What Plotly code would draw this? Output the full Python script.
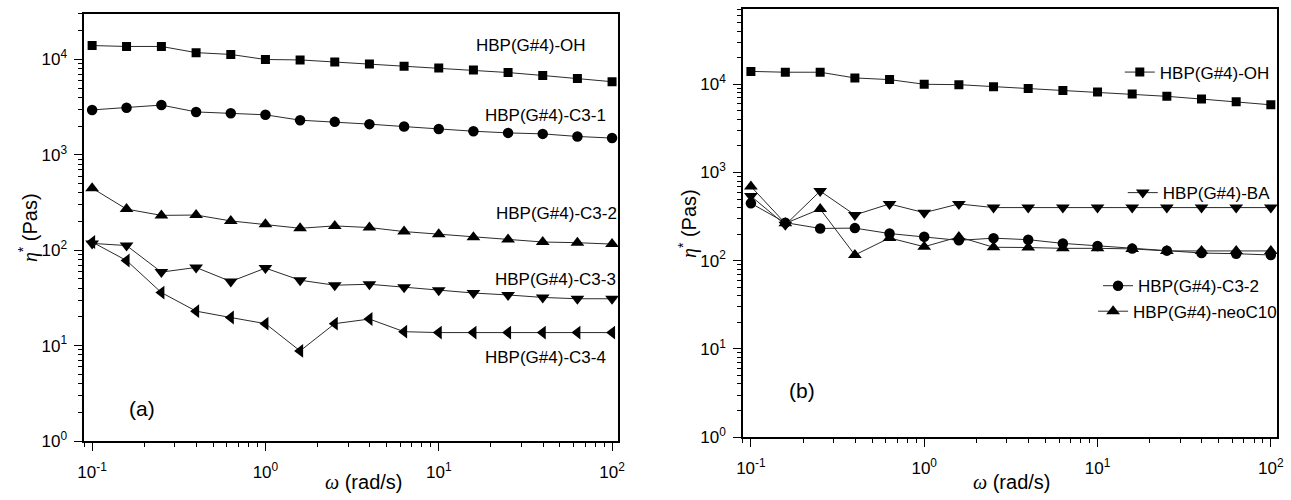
import plotly.graph_objects as go

# Angular frequency (rad/s), 5 points per decade
omega = [0.1, 0.158, 0.251, 0.398, 0.631, 1.0, 1.585, 2.512, 3.981, 6.31,
         10.0, 15.85, 25.12, 39.81, 63.1, 100.0]

# Complex viscosity eta* (Pa s)
eta_OH = [14000, 13700, 13700, 11800, 11300, 10000, 9900, 9400, 8950, 8500,
          8150, 7750, 7300, 6800, 6330, 5850]
eta_C3_1 = [2960, 3120, 3330, 2820, 2730, 2630, 2310, 2220, 2100, 1980,
            1870, 1770, 1700, 1660, 1560, 1500]
eta_C3_2 = [448, 270, 232, 234, 203, 187, 170, 180, 173, 157,
            147, 137, 130, 122, 120, 116]
eta_C3_3 = [118, 112, 59, 66, 47, 65, 48.5, 43, 44, 41,
            38, 35.6, 34, 32, 31, 31]
eta_C3_4 = [122, 78, 36, 23, 19.7, 17, 8.8, 17, 19, 14,
            13.7, 13.7, 13.7, 13.7, 13.7, 13.7]
eta_BA = [540, 255, 615, 330, 440, 350, 440, 400, 400, 400,
          400, 400, 400, 400, 400, 400]
eta_neoC10 = [695, 265, 385, 116, 181, 144, 186, 142, 141, 138,
              138, 136, 129, 129, 129, 129]

x_tickvals = [0.1, 1, 10, 100]
x_ticktext = ["10<sup>-1</sup>", "10<sup>0</sup>", "10<sup>1</sup>", "10<sup>2</sup>"]
y_tickvals = [1, 10, 100, 1000, 10000]
y_ticktext = ["10<sup>0</sup>", "10<sup>1</sup>", "10<sup>2</sup>", "10<sup>3</sup>", "10<sup>4</sup>"]

W, H = 1291, 500
FONT = "Liberation Sans, Arial, sans-serif"
LINE = dict(color="#2a2a2a", width=1)

def minor_vals(lo, hi):
    return [k * 10.0 ** n for n in range(lo, hi) for k in range(2, 10)]

fig = go.Figure()

# panel (a)
panel_a = [
    ("HBP(G#4)-OH", eta_OH, "square", 9),
    ("HBP(G#4)-C3-1", eta_C3_1, "circle", 10.5),
    ("HBP(G#4)-C3-2", eta_C3_2, "triangle-up", 12),
    ("HBP(G#4)-C3-3", eta_C3_3, "triangle-down", 12),
    ("HBP(G#4)-C3-4", eta_C3_4, "triangle-left", 12),
]
for name, vals, sym, size in panel_a:
    fig.add_trace(go.Scatter(
        x=omega, y=vals, name=name, mode="lines+markers",
        line=LINE, marker=dict(symbol=sym, size=size, color="black"),
        xaxis="x", yaxis="y", showlegend=False))

# panel (b), each entry with its own legend box
panel_b = [
    ("HBP(G#4)-OH", eta_OH, "square", 9, "legend"),
    ("HBP(G#4)-BA", eta_BA, "triangle-down", 12, "legend2"),
    ("HBP(G#4)-C3-2", eta_C3_2, "circle", 10.5, "legend3"),
    ("HBP(G#4)-neoC10", eta_neoC10, "triangle-up", 12, "legend4"),
]
for name, vals, sym, size, leg in panel_b:
    fig.add_trace(go.Scatter(
        x=omega, y=vals, name=name, mode="lines+markers",
        line=LINE, marker=dict(symbol=sym, size=size, color="black"),
        xaxis="x2", yaxis="y2", legend=leg, showlegend=True))

def xaxis(domain, anchor):
    return dict(
        type="log", domain=domain, anchor=anchor, range=[-1.046, 2.036],
        tickmode="array", tickvals=x_tickvals, ticktext=x_ticktext,
        ticks="outside", ticklen=8, tickwidth=1.3, tickcolor="black",
        ticklabelstandoff=7,
        showline=True, linecolor="black", linewidth=1.5, mirror=True,
        showgrid=False, zeroline=False,
        tickfont=dict(family=FONT, size=17, color="black"),
        minor=dict(tickmode="array", tickvals=minor_vals(-2, 3), ticks="outside",
                   ticklen=4, tickwidth=1, tickcolor="black", showgrid=False),
    )

def yaxis(domain, anchor, top):
    return dict(
        type="log", domain=domain, anchor=anchor, range=[0, top],
        tickmode="array", tickvals=y_tickvals, ticktext=y_ticktext,
        ticks="outside", ticklen=8, tickwidth=1.3, tickcolor="black",
        ticklabelstandoff=4,
        showline=True, linecolor="black", linewidth=1.5, mirror=True,
        showgrid=False, zeroline=False,
        tickfont=dict(family=FONT, size=17, color="black"),
        minor=dict(tickmode="array", tickvals=minor_vals(0, 5), ticks="outside",
                   ticklen=4, tickwidth=1, tickcolor="black", showgrid=False),
    )

def px_x(p):
    return p / W

def px_y(p):
    return 1 - p / H

annotations = []

def label(text, x, y, size=17, xanchor="left", angle=0):
    annotations.append(dict(
        text=text, xref="paper", yref="paper", x=px_x(x), y=px_y(y),
        xanchor=xanchor, yanchor="middle", showarrow=False, textangle=angle,
        font=dict(family=FONT, size=size, color="black")))

# curve labels of panel (a)
label("HBP(G#4)-OH", 472, 46)
label("HBP(G#4)-C3-1", 481, 118)
label("HBP(G#4)-C3-2", 492, 218)
label("HBP(G#4)-C3-3", 491, 285)
label("HBP(G#4)-C3-4", 481, 365)
label("(a)", 121, 417, size=21)
label("(b)", 789, 398, size=21)

# axis titles
omega_title = "<span style=\"font-family:'Liberation Serif'\"><i>ω</i></span> (rad/s)"
eta_title = "<span style=\"font-family:'Liberation Serif'\"><i>η</i></span><sup>*</sup> (Pas)"
label(omega_title, 360, 492, size=20, xanchor="center")
label(omega_title, 1016, 492, size=20, xanchor="center")
label(eta_title, 22, 232, size=20, xanchor="center", angle=-90)
label(eta_title, 689, 228, size=20, xanchor="center", angle=-90)

def legend_box(x, y):
    return dict(x=px_x(x), y=px_y(y), xanchor="left", yanchor="middle",
                bgcolor="rgba(0,0,0,0)", borderwidth=0, itemwidth=30,
                font=dict(family=FONT, size=17, color="black"))

fig.update_layout(
    width=W, height=H,
    margin=dict(l=0, r=0, t=0, b=0),
    paper_bgcolor="white", plot_bgcolor="white",
    xaxis=xaxis([78 / W, 618 / W], "y"),
    yaxis=yaxis([50 / H, 486 / H], "x", 4.48),
    xaxis2=xaxis([744 / W, 1284 / W], "y2"),
    yaxis2=yaxis([54 / H, 490.5 / H], "x2", 4.85),
    legend=legend_box(1125, 74),
    legend2=legend_box(1128, 197),
    legend3=legend_box(1103, 292),
    legend4=legend_box(1098, 318),
    annotations=annotations,
)

# page with no body margin or scrollbars
page_css = ("document.body.style.margin='0';"
            "document.body.style.overflow='hidden';"
            "document.documentElement.style.overflow='hidden';")
fig.write_html("out.html", post_script=page_css)
